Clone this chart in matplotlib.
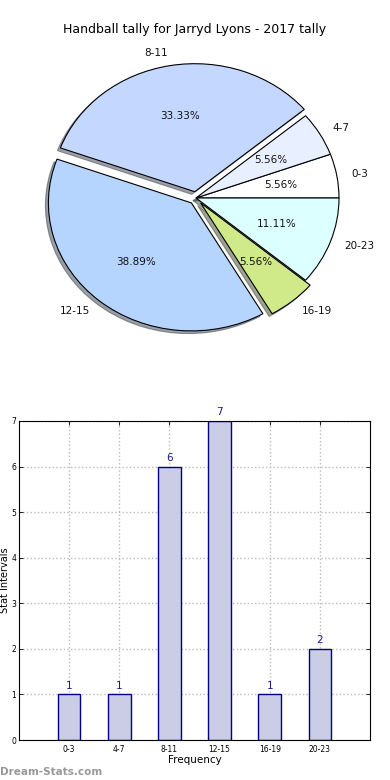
import matplotlib
matplotlib.use('Agg')
import matplotlib.pyplot as plt
import numpy as np

intervals = ['0-3', '4-7', '8-11', '12-15', '16-19', '20-23']
counts = [1, 1, 6, 7, 1, 2]
pie_colors = ['#ffffff', '#e8efff', '#c4d8ff', '#b5d5ff', '#d0ea8a', '#dcffff']
explode = [0, 0, 0.05, 0.05, 0.05, 0]

plt.rcParams['font.family'] = ['DejaVu Sans']

fig = plt.figure(figsize=(3.9, 7.8), dpi=100)

# pie on top (old-style, not forced circular)
rx, ry = 143, 128
cx, cy = 196, 198
ax1 = fig.add_axes([(cx - 1.1 * rx) / 390, (780 - cy - 1.1 * ry) / 780,
                    2.2 * rx / 390, 2.2 * ry / 780])
wedges, texts, autotexts = ax1.pie(
    counts, labels=intervals, colors=pie_colors, explode=explode,
    autopct='%.2f%%', shadow={'ox': -0.015, 'oy': -0.015}, startangle=0,
    wedgeprops={'edgecolor': 'black', 'linewidth': 0.8},
    textprops={'fontsize': 7.5, 'color': '#111111'})
ax1.set_xlim(-1.1, 1.1)
ax1.set_ylim(-1.1, 1.1)
ax1.set_aspect('auto')
fig.text(0.5, 1 - 30 / 780, 'Handball tally for Jarryd Lyons - 2017 tally',
         ha='center', va='center', fontsize=9)

# bar chart below
ax2 = fig.add_axes([19 / 390, 40 / 780, 351 / 390, 319 / 780])
x = np.arange(len(intervals))
ax2.bar(x, counts, width=0.45, color='#cbcce6', edgecolor='#000080', linewidth=1, zorder=2)
for xi, c in zip(x, counts):
    ax2.text(xi, c + 0.08, str(c), ha='center', va='bottom', color='#1a1a8c',
             fontsize=7.5, clip_on=False)
ax2.set_xlim(-1, 6)
ax2.set_ylim(0, 7)
ax2.set_xticks(x)
ax2.set_xticklabels(intervals, fontsize=5.5)
ax2.set_yticks(range(0, 8))
ax2.tick_params(axis='y', labelsize=5.5, pad=2)
ax2.tick_params(direction='in', top=True, right=True, length=3, width=0.6)
ax2.grid(True, linestyle=':', color='#bbbbbb', linewidth=1, zorder=0)
ax2.set_axisbelow(True)
ax2.set_xlabel('Frequency', fontsize=7.5, labelpad=1)
ax2.set_ylabel('Stat Intervals', fontsize=7, va='center')
ax2.yaxis.set_label_coords(-13.5 / 351, 0.5)

fig.text(0, 8 / 780, 'Dream-Stats.com', ha='left', va='center', fontsize=7.5,
         color='#999999', fontweight='bold')

fig.savefig('out.png', dpi=100)
